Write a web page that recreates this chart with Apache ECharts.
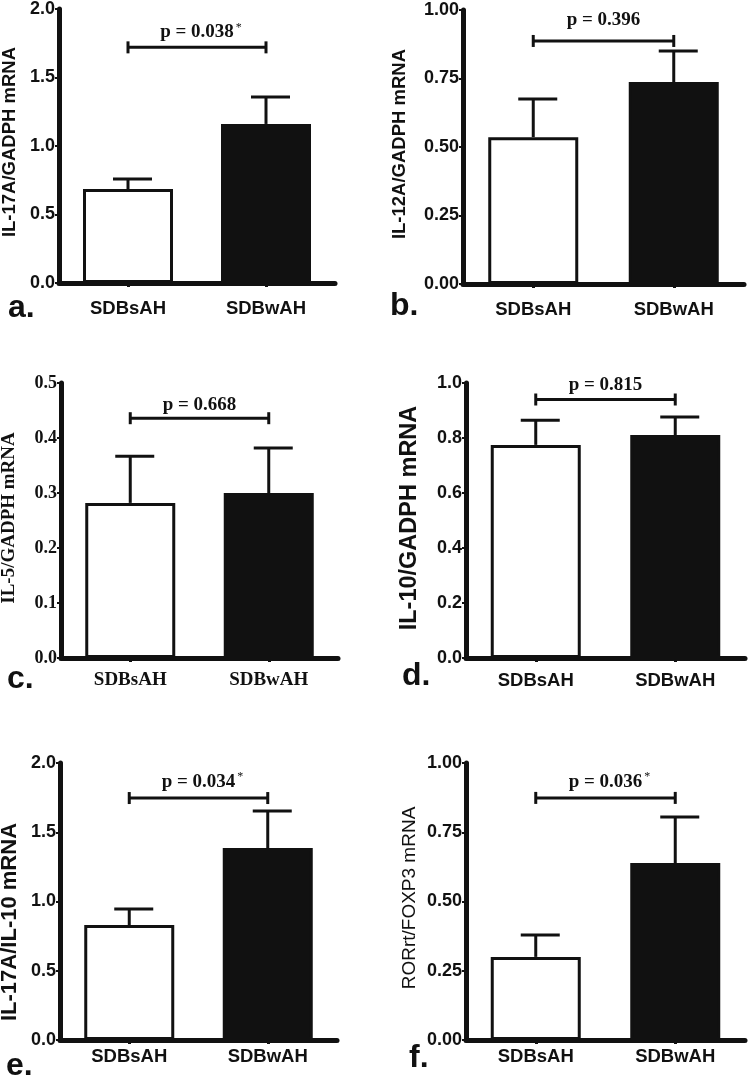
<!DOCTYPE html>
<html><head><meta charset="utf-8">
<script src="https://cdn.jsdelivr.net/npm/echarts@6/dist/echarts.min.js"></script>
<style>html,body{margin:0;padding:0;background:#fff}#c{width:750px;height:1079px}</style>
</head><body><div id="c"></div>
<script>
// ---- data ----
const categories = ['SDBsAH', 'SDBwAH'];

const meansA = [0.686, 1.161]; const semA = [0.073, 0.197];
const meansB = [0.536, 0.737]; const semB = [0.139, 0.113];
const meansC = [0.282, 0.300]; const semC = [0.085, 0.082];
const meansD = [0.775, 0.811]; const semD = [0.090, 0.065];
const meansE = [0.830, 1.386]; const semE = [0.116, 0.267];
const meansF = [0.300, 0.639]; const semF = [0.079, 0.166];

const bracketA = 1.72, bracketB = 0.887, bracketC = 0.436, bracketD = 0.94, bracketE = 1.747, bracketF = 0.874;
const pA = 'p = 0.038', pB = 'p = 0.396', pC = 'p = 0.668', pD = 'p = 0.815', pE = 'p = 0.034', pF = 'p = 0.036';
const sigA = true, sigB = false, sigC = false, sigD = false, sigE = true, sigF = true;

const ticksA = ['0.0', '0.5', '1.0', '1.5', '2.0'];
const ticksB = ['0.00', '0.25', '0.50', '0.75', '1.00'];
const ticksC = ['0.0', '0.1', '0.2', '0.3', '0.4', '0.5'];
const ticksD = ['0.0', '0.2', '0.4', '0.6', '0.8', '1.0'];
const ticksE = ['0.0', '0.5', '1.0', '1.5', '2.0'];
const ticksF = ['0.00', '0.25', '0.50', '0.75', '1.00'];

const namesY = ['IL-17A/GADPH mRNA', 'IL-12A/GADPH mRNA', 'IL-5/GADPH mRNA', 'IL-10/GADPH mRNA', 'IL-17A/IL-10 mRNA', 'RORrt/FOXP3 mRNA'];
const letters = ['a.', 'b.', 'c.', 'd.', 'e.', 'f.'];

// ---- layout / style config ----
const SANS = 'Liberation Sans, Arial, sans-serif';
const SERIF = 'Liberation Serif, Times New Roman, serif';
const INK = '#111';
const panels = [
  {m: meansA, s: semA, br: bracketA, p: pA, sig: sigA, ticks: ticksA, max: 2, iv: 0.5,
   grid: {left: 59, top: 9, width: 276, height: 274}, font: SANS, nameSize: 18.5, nameW: 'bold', namePos: [10, 142], catMargin: 16, pOff: 15, let: [8, 308]},
  {m: meansB, s: semB, br: bracketB, p: pB, sig: sigB, ticks: ticksB, max: 1, iv: 0.25,
   grid: {left: 463, top: 10, width: 281, height: 274}, font: SANS, nameSize: 18.5, nameW: 'bold', namePos: [400, 144], catMargin: 16, pOff: 21, let: [390, 306]},
  {m: meansC, s: semC, br: bracketC, p: pC, sig: sigC, ticks: ticksC, max: 0.5, iv: 0.1,
   grid: {left: 61, top: 383, width: 277, height: 275}, font: SERIF, nameSize: 19, nameW: 'bold', namePos: [9, 518], catMargin: 13, pOff: 13, let: [7, 679]},
  {m: meansD, s: semD, br: bracketD, p: pD, sig: sigD, ticks: ticksD, max: 1, iv: 0.2,
   grid: {left: 466, top: 383, width: 279, height: 275}, font: SANS, nameSize: 23.5, nameW: 'bold', namePos: [410, 518], catMargin: 13, pOff: 14, let: [402, 676]},
  {m: meansE, s: semE, br: bracketE, p: pE, sig: sigE, ticks: ticksE, max: 2, iv: 0.5,
   grid: {left: 60, top: 763, width: 277, height: 277}, font: SANS, nameSize: 22, nameW: 'bold', namePos: [10, 922], catMargin: 7, pOff: 16, let: [6, 1066]},
  {m: meansF, s: semF, br: bracketF, p: pF, sig: sigF, ticks: ticksF, max: 1, iv: 0.25,
   grid: {left: 466, top: 763, width: 279, height: 277}, font: SANS, nameSize: 19, nameW: 'normal', namePos: [410, 898], catMargin: 7, pOff: 16, let: [409, 1058]}
];

const grids = [], xAxes = [], yAxes = [], series = [], graphics = [];
panels.forEach((pn, i) => {
  const isSerif = pn.font === SERIF;
  grids.push(Object.assign({containLabel: false, outerBoundsMode: 'none'}, pn.grid));
  xAxes.push({
    type: 'category', gridIndex: i, data: categories, boundaryGap: true,
    axisLine: {show: true, onZero: false, lineStyle: {color: INK, width: 5, cap: 'round'}},
    axisTick: {show: true, alignWithLabel: true, length: 4, lineStyle: {color: INK, width: 3}},
    axisLabel: {show: true, color: INK, fontFamily: pn.font, fontWeight: 'bold', fontSize: isSerif ? 19 : 18.5, margin: pn.catMargin},
    splitLine: {show: false}
  });
  yAxes.push({
    type: 'value', gridIndex: i, min: 0, max: pn.max, interval: pn.iv,
    axisLine: {show: true, lineStyle: {color: INK, width: 5, cap: 'round'}},
    axisTick: {show: true, length: 4, lineStyle: {color: INK, width: 2}},
    axisLabel: {show: true, color: INK, fontFamily: pn.font, fontWeight: 'bold', fontSize: 18, margin: 4,
      formatter: (v) => pn.ticks[Math.round(v / pn.iv)]},
    splitLine: {show: false}
  });
  series.push({
    type: 'bar', xAxisIndex: i, yAxisIndex: i, barWidth: 90, silent: true,
    data: pn.m.map((v, k) => ({value: v, itemStyle: {color: k === 0 ? '#fff' : INK}})),
    itemStyle: {borderColor: INK, borderWidth: 3}
  });
  series.push({
    type: 'custom', xAxisIndex: i, yAxisIndex: i, silent: true, z: 3,
    data: pn.m.map((v, k) => [k, v, v + pn.s[k]]),
    renderItem: (params, api) => {
      const x = api.value(0);
      const a = api.coord([x, api.value(1)]);
      const b = api.coord([x, api.value(2)]);
      return {type: 'group', children: [
        {type: 'line', shape: {x1: a[0], y1: a[1], x2: b[0], y2: b[1]}, style: {stroke: INK, lineWidth: 3}},
        {type: 'line', shape: {x1: b[0] - 15, y1: b[1], x2: b[0] + 24, y2: b[1]}, style: {stroke: INK, lineWidth: 3}}
      ]};
    }
  });
  series.push({
    type: 'custom', xAxisIndex: i, yAxisIndex: i, silent: true, z: 4,
    data: [[0, pn.br]],
    renderItem: (params, api) => {
      const y = api.value(1);
      const a = api.coord([0, y]);
      const b = api.coord([1, y]);
      const txt = pn.sig ? '{t|' + pn.p + '}{s|*}' : '{t|' + pn.p + '}';
      return {type: 'group', children: [
        {type: 'line', shape: {x1: a[0], y1: a[1], x2: b[0], y2: b[1]}, style: {stroke: INK, lineWidth: 3}},
        {type: 'line', shape: {x1: a[0], y1: a[1] - 6, x2: a[0], y2: a[1] + 6}, style: {stroke: INK, lineWidth: 3}},
        {type: 'line', shape: {x1: b[0], y1: b[1] - 6, x2: b[0], y2: b[1] + 6}, style: {stroke: INK, lineWidth: 3}},
        {type: 'text', x: (a[0] + b[0]) / 2 + (pn.sig ? 4 : 0), y: a[1] - pn.pOff, style: {
          text: txt, align: 'center', verticalAlign: 'middle',
          rich: {
            t: {fontFamily: SERIF, fontWeight: 'bold', fontSize: 19, fill: INK, color: INK},
            s: {fontFamily: SERIF, fontWeight: 'normal', fontSize: 12, fill: INK, color: INK, verticalAlign: 'top', padding: [0, 0, 10, 2]}
          }
        }}
      ]};
    }
  });
  // y-axis title (rotated)
  graphics.push({type: 'text', x: pn.namePos[0], y: pn.namePos[1], rotation: Math.PI / 2,
    style: {text: namesY[i], font: pn.nameW + ' ' + pn.nameSize + 'px ' + pn.font, fill: INK,
      align: 'center', verticalAlign: 'middle'}});
  // panel letter
  graphics.push({type: 'text', left: pn.let[0], top: pn.let[1] - 16,
    style: {text: letters[i], font: 'bold 32px ' + SANS, fill: INK}});
});

const chart = echarts.init(document.getElementById('c'), null, {renderer: 'canvas'});
chart.setOption({
  animation: false, backgroundColor: '#fff',
  grid: grids, xAxis: xAxes, yAxis: yAxes, series: series, graphic: graphics
});
</script></body></html>
